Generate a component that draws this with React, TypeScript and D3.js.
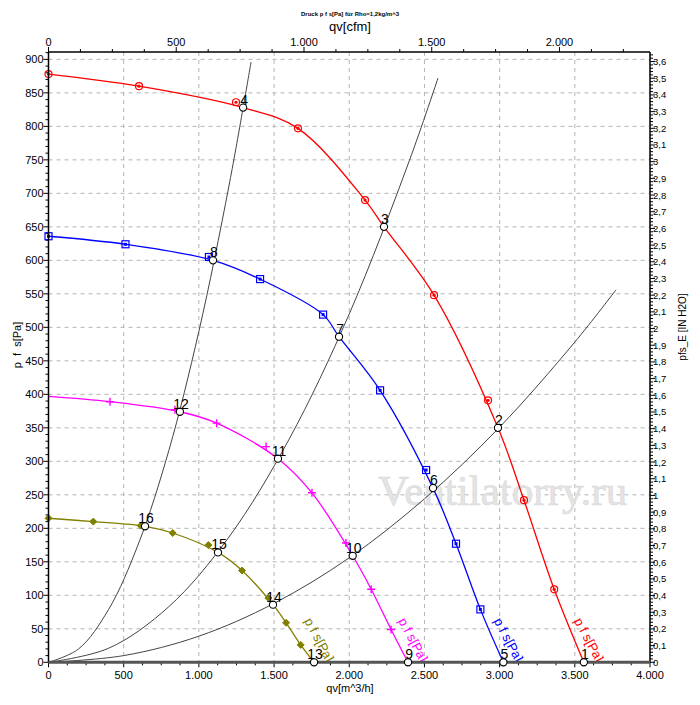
import * as d3 from "d3";

// fan curves: [qv m^3/h, pfs Pa]
const redCurve: [number, number][] = [
  [0, 878], [602, 860], [1294, 828], [1659, 797], [2105, 690], [2231, 650],
  [2564, 548], [2989, 350], [3162, 242], [3363, 109], [3560, 0],
];
const redMarks: [number, number][] = [
  [0, 878], [602, 860], [1247, 836], [1659, 797], [2105, 690], [2564, 548], [2923, 391], [3162, 242], [3363, 109],
];
const blueCurve: [number, number][] = [
  [0, 636], [512, 624], [1094, 600], [1407, 572], [1826, 519], [1932, 486], [2205, 406],
  [2557, 260], [2710, 177], [2872, 79], [3025, 0],
];
const blueMarks: [number, number][] = [
  [0, 636], [512, 624], [1067, 605], [1407, 572], [1826, 519], [2205, 406], [2511, 287], [2710, 177], [2872, 79],
];
const magentaCurve: [number, number][] = [
  [0, 397], [409, 389], [874, 374], [1118, 357], [1526, 304], [1752, 253],
  [2023, 159], [2146, 109], [2278, 49], [2391, 0],
];
const magentaMarks: [number, number][] = [
  [409, 389], [841, 377], [1118, 357], [1447, 322], [1752, 253], [1978, 178], [2146, 109], [2278, 49],
];
const oliveCurve: [number, number][] = [
  [0, 215], [298, 210], [642, 203], [826, 193], [1127, 164], [1287, 137],
  [1493, 86], [1580, 59], [1677, 26], [1766, 0],
];
const oliveMarks: [number, number][] = [
  [0, 215], [298, 210], [613, 204], [826, 193], [1063, 175], [1287, 137], [1462, 96], [1580, 59], [1677, 26],
];

// system resistance curves
const sysA: [number, number][] = [
  [0, 0], [200, 20], [400, 79], [600, 178], [800, 316], [1000, 494], [1200, 711], [1347, 896],
];
const sysB: [number, number][] = [
  [0, 0], [400, 21], [800, 83], [1200, 187], [1600, 333], [2000, 520], [2400, 749], [2590, 872],
];
const sysC: [number, number][] = [
  [0, 0], [500, 10], [1000, 39], [1500, 88], [2000, 156], [2500, 244], [3000, 351], [3500, 478], [3774, 556],
];

// operating points
const opIds = [1, 2, 3, 4, 5, 6, 7, 8, 9, 10, 11, 12, 13, 14, 15, 16];
const opQ = [3560, 2989, 2231, 1294, 3025, 2557, 1932, 1094, 2391, 2023, 1526, 874, 1766, 1493, 1127, 642];
const opP = [0, 350, 650, 828, 0, 260, 486, 600, 0, 159, 304, 374, 0, 86, 164, 203];

const leftTicks = d3.range(0, 901, 50);
const bottomTicks = d3.range(0, 4001, 500);
const cfmTicks = d3.range(0, 2001, 500);
const inchTicks = d3.range(0, 37).map((d) => d / 10);

const fmt = (v: number) => (v === 0 ? "0" : d3.format(",")(v).replace(",", "."));
const fmtComma = (v: number) => (Number.isInteger(v) ? `${v}` : v.toFixed(1).replace(".", ","));

const W = 700;
const H = 705;
const L = 48.5;
const R = 650;
const T = 52;
const B = 662.3;
const PA_PER_INCH = 249.09;
const M3H_PER_CFM = 1.699;

export default function App() {
  const x = d3.scaleLinear().domain([0, 4000]).range([L, R]);
  const y = d3.scaleLinear().domain([0, 911]).range([B, T]);
  const xc = d3.scaleLinear().domain([0, 4000 / M3H_PER_CFM]).range([L, R]);
  const yi = d3.scaleLinear().domain([0, 911 / PA_PER_INCH]).range([B, T]);

  const line = d3
    .line<[number, number]>()
    .x((d) => x(d[0]))
    .y((d) => y(d[1]))
    .curve(d3.curveCatmullRom.alpha(0.5));

  const font = "'Liberation Sans', Arial, sans-serif";

  const fans = [
    { curve: redCurve, marks: redMarks, color: "#ff0000", kind: "circle" },
    { curve: blueCurve, marks: blueMarks, color: "#0000ff", kind: "square" },
    { curve: magentaCurve, marks: magentaMarks, color: "#ff00ff", kind: "plus" },
    { curve: oliveCurve, marks: oliveMarks, color: "#808000", kind: "diamond" },
  ];

  const marker = (kind: string, cx: number, cy: number, c: string, k: number) => {
    if (kind === "circle")
      return (
        <g key={k}>
          <circle cx={cx} cy={cy} r={3.5} fill="none" stroke={c} strokeWidth={1.2} />
          <circle cx={cx} cy={cy} r={1.6} fill={c} />
        </g>
      );
    if (kind === "square")
      return (
        <g key={k}>
          <rect x={cx - 3.5} y={cy - 3.5} width={7} height={7} fill="none" stroke={c} strokeWidth={1.2} />
          <rect x={cx - 1.5} y={cy - 1.5} width={3} height={3} fill={c} />
        </g>
      );
    if (kind === "plus")
      return (
        <path key={k} d={`M${cx - 4},${cy}H${cx + 4}M${cx},${cy - 4}V${cy + 4}`} stroke={c} strokeWidth={1.4} />
      );
    return (
      <path key={k} d={`M${cx},${cy - 3.5}L${cx + 3.5},${cy}L${cx},${cy + 3.5}L${cx - 3.5},${cy}Z`} fill={c} stroke={c} />
    );
  };

  return (
    <svg width={W} height={H} style={{ position: "absolute", left: 0, top: 0, background: "#fff" }} fontFamily={font}>
      <text x={350} y={16} fontSize={6} textAnchor="middle" fontWeight="bold">
        Druck p f s[Pa] für Rho=1,2kg/m^3
      </text>
      <text x={350} y={31} fontSize={13} textAnchor="middle">qv[cfm]</text>

      {/* grid */}
      {leftTicks.filter((d) => d > 0).map((d) => (
        <line key={`gh${d}`} x1={L} x2={R} y1={y(d)} y2={y(d)} stroke="#b4b4b4" strokeDasharray="4 4" />
      ))}
      {bottomTicks.filter((d) => d > 0 && d < 4000).map((d) => (
        <line key={`gv${d}`} x1={x(d)} x2={x(d)} y1={T} y2={B} stroke="#b4b4b4" strokeDasharray="4 4" />
      ))}

      <text x={378} y={505} fontSize={43} fontFamily="'Liberation Serif', serif" fill="#e4e4e4" stroke="#d8d8d8" strokeWidth={0.6}>
        Ventilatorry.ru
      </text>

      {/* left axis */}
      {d3.range(0, 911, 10).map((d) => (
        <line key={`lm${d}`} x1={L - (d % 50 === 0 ? 5 : 3)} x2={L} y1={y(d)} y2={y(d)} stroke="#000" />
      ))}
      {leftTicks.map((d) => (
        <text key={`lt${d}`} x={L - 5} y={y(d) + 4} fontSize={11} textAnchor="end">{d}</text>
      ))}
      <text transform={`translate(21,345) rotate(-90)`} fontSize={11} textAnchor="middle" xmlSpace="preserve">
        {"p  f  s[Pa]"}
      </text>

      {/* right axis */}
      {d3.range(0, 183).map((i) => {
        const v = i / 50;
        return (
          <line key={`rm${i}`} x1={R} x2={R + (i % 5 === 0 ? 5 : 3)} y1={yi(v)} y2={yi(v)} stroke="#000" />
        );
      })}
      {inchTicks.map((d) => (
        <text key={`rt${d}`} x={R + 3} y={yi(d) + 3.5} fontSize={9.5}>{fmtComma(d)}</text>
      ))}
      <text transform={`translate(686,327) rotate(-90)`} fontSize={10} textAnchor="middle">pfs_E [IN H2O]</text>

      {/* top axis */}
      {d3.range(0, 2354, 125).map((d) => (
        <line key={`tm${d}`} x1={xc(d)} x2={xc(d)} y1={T - (d % 500 === 0 ? 5 : 3)} y2={T} stroke="#000" />
      ))}
      {cfmTicks.map((d) => (
        <text key={`tt${d}`} x={xc(d)} y={T - 6} fontSize={11} textAnchor="middle">{fmt(d)}</text>
      ))}

      {/* bottom axis */}
      {d3.range(0, 4001, 125).map((d) => (
        <line key={`bm${d}`} x1={x(d)} x2={x(d)} y1={B} y2={B + (d % 500 === 0 ? 5 : 3)} stroke="#000" />
      ))}
      {bottomTicks.map((d) => (
        <text key={`bt${d}`} x={x(d)} y={B + 17} fontSize={11} textAnchor="middle">{fmt(d)}</text>
      ))}
      <text x={350} y={692} fontSize={11} textAnchor="middle">qv[m^3/h]</text>

      {/* system curves */}
      {[sysA, sysB, sysC].map((s, i) => (
        <path key={`s${i}`} d={line(s) ?? ""} fill="none" stroke="#444" strokeWidth={1} />
      ))}

      {/* fan curves */}
      {fans.map((f, i) => (
        <g key={`f${i}`}>
          <path d={line(f.curve) ?? ""} fill="none" stroke={f.color} strokeWidth={1.3} />
          {f.marks.map((m, j) => marker(f.kind, x(m[0]), y(m[1]), f.color, j))}
          <text
            transform={`translate(${x(f.curve[f.curve.length - 1][0]) - 10},${y(62)}) rotate(62)`}
            fontSize={13}
            fill={f.color}
            xmlSpace="preserve"
          >
            {"p f s[Pa]"}
          </text>
        </g>
      ))}

      {/* frame */}
      <line x1={L} x2={R} y1={T} y2={T} stroke="#000" strokeWidth={1.5} />
      <line x1={L} x2={L} y1={T} y2={B} stroke="#000" strokeWidth={1.5} />
      <line x1={R} x2={R} y1={T} y2={B} stroke="#000" strokeWidth={1.5} />
      <line x1={L} x2={R} y1={B} y2={B} stroke="#555" strokeWidth={3} />

      {/* operating points */}
      {opIds.map((id, i) => (
        <g key={`op${id}`}>
          <circle cx={x(opQ[i])} cy={y(opP[i])} r={3.6} fill="#fff" stroke="#000" strokeWidth={1.1} />
          <text x={x(opQ[i]) + 1} y={y(opP[i]) - 3} fontSize={14} textAnchor="middle">{id}</text>
        </g>
      ))}
    </svg>
  );
}
